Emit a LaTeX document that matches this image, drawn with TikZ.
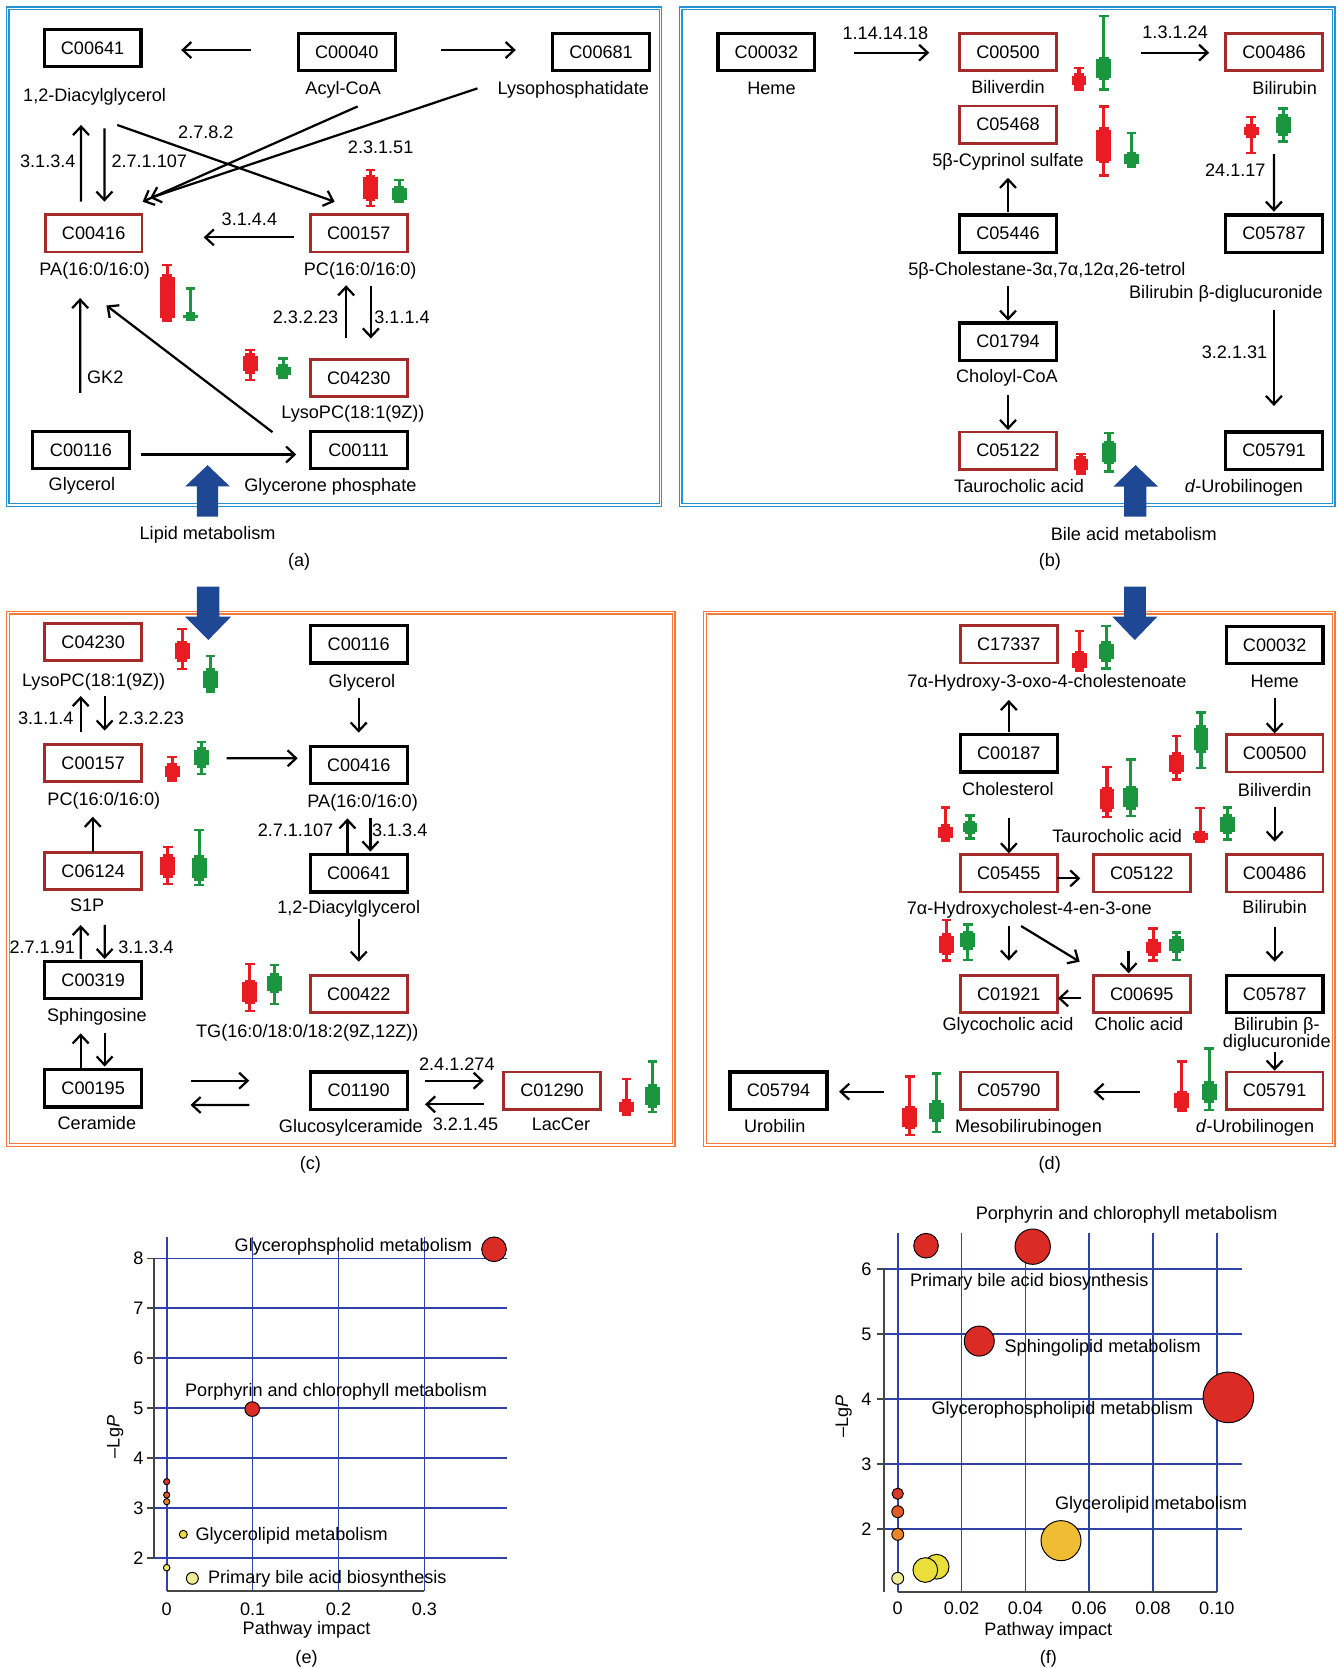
\documentclass[tikz,border=0pt]{standalone}
\usepackage{fontspec}
\setmainfont{Liberation Sans}
\usetikzlibrary{arrows.meta,calc}
\definecolor{boxred}{RGB}{165,42,42}
\definecolor{bpred}{RGB}{233,28,36}
\definecolor{bpgreen}{RGB}{28,150,62}
\definecolor{frblue}{RGB}{38,145,215}
\definecolor{frorange}{RGB}{245,122,58}
\definecolor{bigblue}{RGB}{31,72,148}
\definecolor{gridblue}{RGB}{48,66,168}
\definecolor{axgray}{RGB}{70,70,70}
\definecolor{bred}{RGB}{218,43,37}
\definecolor{bredtwo}{RGB}{216,56,38}
\definecolor{borangeone}{RGB}{226,90,40}
\definecolor{borangetwo}{RGB}{234,134,42}
\definecolor{bgold}{RGB}{240,188,52}
\definecolor{byellow}{RGB}{234,222,58}
\definecolor{bgyellow}{RGB}{236,232,110}
\definecolor{blyellow}{RGB}{240,236,150}
\newcommand\fs{\fontsize{17}{19}\selectfont}
\newcommand\bplot[6]{%
  \draw[#1, line width=3pt] (#2,#3) -- (#2,#6);
  \draw[#1, line width=2.2pt] (#2-4.5,#3) -- (#2+4.5,#3) (#2-4.5,#6) -- (#2+4.5,#6);
  \fill[#1] (#2-4.5,#4-2.5) rectangle (#2+4.5,#5+2.5);
  \fill[#1] (#2-7,#4) rectangle (#2+7,#5);}
\tikzset{
  kbox/.style={draw=black, line width=3pt, minimum width=91pt, minimum height=35pt, inner sep=0pt, font=\fs},
  rbox/.style={draw=boxred, line width=2.6pt, minimum width=91pt, minimum height=35pt, inner sep=0pt, font=\fs},
  lab/.style={font=\fs, inner sep=0pt, text height=12.5pt, text depth=3.5pt},
  arr/.style={line width=2.1pt, -{Straight Barb[length=8pt,width=15pt,line width=2.1pt]}},
  bframe/.style={draw=frblue, line width=1.2pt, double=white, double distance=1.2pt},
  oframe/.style={draw=frorange, line width=1.2pt, double=white, double distance=1.2pt},
  gridl/.style={draw=gridblue, line width=1.6pt},
  axisl/.style={draw=axgray, line width=1.6pt},
  ticklab/.style={font=\fs, inner sep=0pt},
  bub/.style={draw=black, line width=0.9pt},
}
\begin{document}
\begin{tikzpicture}[x=1pt,y=-1pt]
\useasboundingbox (0,0) rectangle (1257,1568);
\fill[white] (0,0) rectangle (1257,1568);

% ---------------- frames
\draw[bframe] (7.2,7.8) rectangle (620.5,474.4);
\draw[bframe] (639.5,7.8) rectangle (1253,474.4);
\draw[oframe] (7.4,575.6) rectangle (633,1075.7);
\draw[oframe] (662.2,575.6) rectangle (1253,1075.7);

% ---------------- panel (a)
\node[kbox] (a641) at (87,45) {C00641};
\node[kbox] (a040) at (325.8,49) {C00040};
\node[kbox] (a681) at (564.7,49) {C00681};
\node[rbox] (a416) at (88,219.2) {C00416};
\node[rbox] (a157) at (337,219.2) {C00157};
\node[rbox] (a230) at (337,355) {C04230};
\node[kbox] (a116) at (76.1,423) {C00116};
\node[kbox] (a111) at (337,423) {C00111};
\node[lab] (la641) at (88.9,90.8) {1,2-Diacylglycerol};
\node[lab] (la040) at (322.4,83.9) {Acyl-CoA};
\node[lab] (la681) at (538.6,83.9) {Lysophosphatidate};
\node[lab] (la416) at (88.9,254.3) {PA(16:0/16:0)};
\node[lab] (la157) at (338.4,254.3) {PC(16:0/16:0)};
\node[lab] (la230) at (331.6,388.3) {LysoPC(18:1(9Z))};
\node[lab] (la116) at (76.9,456.3) {Glycerol};
\node[lab] (la111) at (310.4,457.2) {Glycerone phosphate};
\node[lab] (ea1) at (193.4,125.3) {2.7.8.2};
\node[lab] (ea2) at (357.6,139.4) {2.3.1.51};
\node[lab] (ea3) at (44.9,152.5) {3.1.3.4};
\node[lab] (ea4) at (140.2,152.5) {2.7.1.107};
\node[lab] (ea5) at (234.3,207.6) {3.1.4.4};
\node[lab] (ea6) at (287.1,299.7) {2.3.2.23};
\node[lab] (ea7) at (377.7,299.7) {3.1.1.4};
\node[lab] (ea8) at (98.9,355.4) {GK2};
\draw[arr] ($(a040)+(-90.3,-2)$) -- ($(a641)+(83.2,2)$);
\draw[arr] ($(a040)+(88.7,-2)$) -- ($(a681)+(-80.1,-2)$);
\draw[arr] ($(a416)+(-11.9,-29.7)$) -- ($(la641)+(-12.8,26.6)$);
\draw[arr] ($(la641)+(9.2,29.8)$) -- ($(a416)+(10.1,-29.7)$);
\draw[arr] ($(la641)+(21.2,26.6)$) -- ($(a157)+(-22.6,-29.7)$);
\draw[arr] ($(la040)+(13.6,16.1)$) -- ($(a416)+(46,-29.7)$);
\draw[arr] ($(la681)+(-90,-0.9)$) -- ($(a416)+(53,-33.2)$);
\draw[arr] ($(a157)+(-60.7,3.8)$) -- ($(a416)+(103.4,3.8)$);
\draw[arr] ($(a230)+(-11.8,-37)$) -- ($(la157)+(-13.2,13.7)$);
\draw[arr] ($(la157)+(10,14.7)$) -- ($(a230)+(11.4,-37)$);
\draw[arr] ($(a116)+(-0.8,-54)$) -- ($(la416)+(-13.6,25.7)$);
\draw[arr] ($(a111)+(-81,-17)$) -- ($(la416)+(11.1,32.7)$);
\draw[arr] ($(a116)+(55.9,4)$) -- ($(a111)+(-58.7,4)$);
\bplot{bpred}{348}{160}{166.5}{186.5}{193.7}
\bplot{bpgreen}{375}{169}{177}{188}{190}
\bplot{bpred}{157}{249}{260}{299}{301}
\bplot{bpgreen}{179}{271}{296}{299}{300}
\bplot{bpred}{235}{329}{334.5}{349}{357}
\bplot{bpgreen}{266}{336.7}{344.5}{352}{355}
\fill[bigblue] (185,485.4) -- (185,457) -- (174,457) -- (195,437) -- (216,457) -- (205,457) -- (205,485.4) -- cycle;
\node[lab] (lipid) at (195,502.6) {Lipid metabolism};
\node[lab] (capa) at (281,527.7) {(a)};

% ---------------- panel (b)
\node[kbox] (b032) at (720,49) {C00032};
\node[rbox] (b500) at (947,49) {C00500};
\node[rbox] (b486) at (1197,49) {C00486};
\node[rbox] (b468) at (947,117) {C05468};
\node[kbox] (b446) at (947,219.5) {C05446};
\node[kbox] (b787) at (1197,219.5) {C05787};
\node[kbox] (b794) at (947,321) {C01794};
\node[rbox] (b122) at (947,423.4) {C05122};
\node[kbox] (b791) at (1197,423.4) {C05791};
\node[lab] (lb032) at (724.8,84) {Heme};
\node[lab] (lb500) at (947,83) {Biliverdin};
\node[lab] (lb486) at (1206.9,84) {Bilirubin};
\node[lab] (lb468) at (947,152) {5β-Cyprinol sulfate};
\node[lab] (lb446) at (983.5,254.3) {5β-Cholestane-3α,7α,12α,26-tetrol};
\node[lab] (lb787) at (1151.7,276.2) {Bilirubin β-diglucuronide};
\node[lab] (lb794) at (946,354.8) {Choloyl-CoA};
\node[lab] (lb122) at (957.4,457.8) {Taurocholic acid};
\node[lab] (lb791) at (1168.6,457.8) {\textit{d}-Urobilinogen};
\node[lab] (eb1) at (831.8,32.3) {1.14.14.18};
\node[lab] (eb2) at (1104,31.3) {1.3.1.24};
\node[lab] (eb3) at (1160.6,161.3) {24.1.17};
\node[lab] (eb4) at (1159.8,332.6) {3.2.1.31};
\draw[arr] ($(b032)+(82,0.5)$) -- ($(b500)+(-74,0.5)$);
\draw[arr] ($(b500)+(125,0.5)$) -- ($(b486)+(-61,0.5)$);
\draw[arr] ($(b446)+(0,-20.5)$) -- ($(lb468)+(0,15)$);
\draw[arr] ($(lb486)+(-10.1,60.7)$) -- ($(b787)+(-0.2,-20.6)$);
\draw[arr] ($(lb446)+(-36.5,14.4)$) -- ($(b794)+(0,-19.7)$);
\draw[arr] ($(lb794)+(1,16.2)$) -- ($(b122)+(0,-19.4)$);
\draw[arr] ($(lb787)+(45.1,14.8)$) -- ($(b791)+(-0.2,-42)$);
\bplot{bpred}{1013.7}{63.6}{71.4}{79.9}{84}
\bplot{bpgreen}{1037}{15}{55.7}{73}{84}
\bplot{bpred}{1037}{100}{122}{151}{165}
\bplot{bpgreen}{1063}{125}{145}{154}{156.6}
\bplot{bpred}{1175.4}{110}{119}{126.8}{144}
\bplot{bpgreen}{1205.6}{101.8}{109.6}{125}{133}
\bplot{bpred}{1015.6}{426.5}{431.2}{441.6}{445.3}
\bplot{bpgreen}{1041.9}{406.5}{416.5}{433.7}{443}
\fill[bigblue] (1056,485.4) -- (1056,457.2) -- (1046,457.2) -- (1066.8,436.9) -- (1088,457.2) -- (1077,457.2) -- (1077,485.4) -- cycle;
\node[lab] (bile) at (1065.2,503.3) {Bile acid metabolism};
\node[lab] (capb) at (986.4,527.7) {(b)};

% ---------------- panel (c)
\fill[bigblue] (185,551.2) -- (185,579.4) -- (174,579.4) -- (195.7,601.3) -- (217,579.4) -- (206,579.4) -- (206,551.2) -- cycle;
\node[rbox] (c230) at (87.5,603) {C04230};
\node[kbox] (c116) at (337,605.4) {C00116};
\node[rbox] (c157) at (87.5,716.7) {C00157};
\node[kbox] (c416) at (337,718.8) {C00416};
\node[rbox] (c124) at (87.5,818.5) {C06124};
\node[kbox] (c641) at (337,820.6) {C00641};
\node[kbox] (c319) at (87.5,920.5) {C00319};
\node[rbox] (c422) at (337,934) {C00422};
\node[kbox] (c195) at (87.5,1022.5) {C00195};
\node[kbox] (c190) at (337,1024.7) {C01190};
\node[rbox] (c290) at (518.6,1024.7) {C01290};
\node[lab] (lc230) at (88,640.4) {LysoPC(18:1(9Z))};
\node[lab] (lc116) at (340,641) {Glycerol};
\node[lab] (lc157) at (97.5,752.5) {PC(16:0/16:0)};
\node[lab] (lc416) at (340.7,753.8) {PA(16:0/16:0)};
\node[lab] (lc124) at (81.9,851.8) {S1P};
\node[lab] (lc641) at (327.6,854) {1,2-Diacylglycerol};
\node[lab] (lc319) at (91,955.2) {Sphingosine};
\node[lab] (lc422) at (288.7,969.8) {TG(16:0/18:0/18:2(9Z,12Z))};
\node[lab] (lc195) at (91,1057) {Ceramide};
\node[lab] (lc190) at (329.6,1059.4) {Glucosylceramide};
\node[lab] (lc290) at (527,1057.6) {LacCer};
\node[lab] (ec1) at (43,676.4) {3.1.1.4};
\node[lab] (ec2) at (142,676.4) {2.3.2.23};
\node[lab] (ec3) at (277.6,781.3) {2.7.1.107};
\node[lab] (ec4) at (375.5,781.3) {3.1.3.4};
\node[lab] (ec5) at (39.7,891) {2.7.1.91};
\node[lab] (ec6) at (137.2,891) {3.1.3.4};
\node[lab] (ec7) at (429.2,1001.2) {2.4.1.274};
\node[lab] (ec8) at (437.3,1057.6) {3.2.1.45};
\draw[arr] ($(c157)+(-11.7,-29.3)$) -- ($(lc230)+(-12.2,13.5)$);
\draw[arr] ($(lc230)+(10.3,13.5)$) -- ($(c157)+(10.8,-30.3)$);
\draw[arr] ($(lc116)+(-3,14.5)$) -- ($(c416)+(0,-30.5)$);
\draw[arr] ($(c157)+(125.5,-4.3)$) -- ($(c416)+(-57.3,-6.4)$);
\draw[arr] ($(c124)+(-0.3,-18.5)$) -- ($(lc157)+(-10.3,14.8)$);
\draw[arr] ($(c641)+(-10.6,-18.9)$) -- ($(lc416)+(-14.3,15)$);
\draw[arr] ($(lc416)+(7.3,15)$) -- ($(c641)+(11,-20.6)$);
\draw[arr] ($(c319)+(-11.7,-19.5)$) -- ($(lc124)+(-6.1,17.2)$);
\draw[arr] ($(lc124)+(16.4,17.2)$) -- ($(c319)+(10.8,-19.5)$);
\draw[arr] ($(lc641)+(9.4,9.7)$) -- ($(c422)+(0,-30.5)$);
\draw[arr] ($(c195)+(-11.7,-18.8)$) -- ($(lc319)+(-15.2,15.6)$);
\draw[arr] ($(lc319)+(7.3,15.6)$) -- ($(c195)+(10.8,-20.5)$);
\draw[arr] ($(c195)+(91.5,-7.2)$) -- ($(c190)+(-102.8,-9.4)$);
\draw[arr] ($(c190)+(-102.8,13.4)$) -- ($(c195)+(91.5,15.6)$);
\draw[arr] ($(c190)+(62.3,-9.4)$) -- ($(c290)+(-64.1,-9.4)$);
\draw[arr] ($(c290)+(-64.1,12.8)$) -- ($(c190)+(62.3,12.8)$);
\bplot{bpred}{171.2}{591.2}{604.4}{619.4}{628.8}
\bplot{bpgreen}{197.8}{616.3}{630}{646.7}{650.4}
\bplot{bpred}{161.8}{710.9}{719.3}{729.7}{733.4}
\bplot{bpgreen}{189.2}{696.8}{704.6}{718.7}{727.2}
\bplot{bpred}{157.7}{796}{804.8}{822}{830.5}
\bplot{bpgreen}{187.1}{779.8}{806}{825}{831.5}
\bplot{bpred}{234.6}{905.7}{922.9}{941}{949.5}
\bplot{bpgreen}{258}{906.6}{916.6}{930.7}{943.3}
\bplot{bpred}{588.5}{1013.7}{1035}{1044.4}{1047.5}
\bplot{bpgreen}{613}{997.4}{1021}{1038}{1044.4}
\node[lab] (capc) at (291.6,1094.5) {(c)};

% ---------------- panel (d)
\fill[bigblue] (1056,551.2) -- (1056,579.4) -- (1045,579.4) -- (1066.1,601.3) -- (1087.3,579.4) -- (1076.5,579.4) -- (1076.5,551.2) -- cycle;
\node[rbox] (d337) at (947.8,605.4) {C17337};
\node[kbox] (d032) at (1197.5,606) {C00032};
\node[kbox] (d187) at (947.8,707.8) {C00187};
\node[rbox] (d500) at (1197.5,707.8) {C00500};
\node[rbox] (d455) at (947.8,820.5) {C05455};
\node[rbox] (d122) at (1072.6,820.5) {C05122};
\node[rbox] (d486) at (1197.5,820.5) {C00486};
\node[rbox] (d921) at (947.8,934) {C01921};
\node[rbox] (d695) at (1072.6,934) {C00695};
\node[kbox] (d787) at (1197.5,934) {C05787};
\node[kbox] (d794) at (731.4,1024.7) {C05794};
\node[rbox] (d790) at (947.8,1024.7) {C05790};
\node[rbox] (d791) at (1197.5,1024.7) {C05791};
\node[lab] (ld337) at (983.5,641.4) {7α-Hydroxy-3-oxo-4-cholestenoate};
\node[lab] (ld032) at (1197.5,641.4) {Heme};
\node[lab] (ld187) at (947,742.8) {Cholesterol};
\node[lab] (ld500) at (1197.5,743.8) {Biliverdin};
\node[lab] (ld122) at (1049.6,787) {Taurocholic acid};
\node[lab] (ld455) at (967,855) {7α-Hydroxycholest-4-en-3-one};
\node[lab] (ld486) at (1197.5,853.4) {Bilirubin};
\node[lab] (ld921) at (947,963.6) {Glycocholic acid};
\node[lab] (ld695) at (1070,963.6) {Cholic acid};
\node[font=\fontsize{17}{16}\selectfont, inner sep=0pt, align=center] (ld787) at (1199.5,971.6) {Bilirubin β-\\diglucuronide};
\node[lab] (ld794) at (727.9,1059.1) {Urobilin};
\node[lab] (ld790) at (966.2,1059.1) {Mesobilirubinogen};
\node[lab] (ld791) at (1179.1,1059.1) {\textit{d}-Urobilinogen};
\draw[arr] ($(d187)+(0,-19.8)$) -- ($(ld337)+(-35.7,16.2)$);
\draw[arr] ($(ld032)+(0,14.6)$) -- ($(d500)+(0,-18.8)$);
\draw[arr] ($(ld187)+(0.8,26)$) -- ($(d455)+(0,-18.8)$);
\draw[arr] ($(ld500)+(0,14.1)$) -- ($(d486)+(0,-29.8)$);
\draw[arr] ($(d455)+(44.9,4.7)$) -- ($(d122)+(-57.6,4.7)$);
\draw[arr] ($(ld486)+(0,17.2)$) -- ($(d787)+(0,-30.5)$);
\draw[arr] ($(ld455)+(-19.2,15)$) -- ($(d921)+(0,-31.5)$);
\draw[arr] ($(ld455)+(-7.7,15)$) -- ($(d695)+(-58.3,-30.5)$);
\draw[arr] ($(d122)+(-12.3,72.7)$) -- ($(d695)+(-12.3,-19.6)$);
\draw[arr] ($(d695)+(-56.8,3.9)$) -- ($(d921)+(46.1,3.9)$);
\draw[arr] ($(ld787)+(-2,16.4)$) -- ($(d791)+(0,-18.8)$);
\draw[arr] ($(d791)+(-126.8,0.9)$) -- ($(d790)+(79.5,0.9)$);
\draw[arr] ($(d790)+(-117.3,0.9)$) -- ($(d794)+(56.9,0.9)$);
\bplot{bpred}{1014.3}{592.8}{613.8}{627.9}{630.4}
\bplot{bpgreen}{1039.2}{588.1}{605}{619.4}{627.9}
\bplot{bpred}{1105.3}{691.5}{709.3}{725}{732.2}
\bplot{bpgreen}{1128.3}{669.5}{683.6}{704.6}{721.8}
\bplot{bpred}{1040}{720.3}{741.6}{760.3}{767.3}
\bplot{bpgreen}{1062.3}{713.4}{740.6}{758.5}{766.6}
\bplot{bpred}{888.2}{758.5}{776.7}{787.6}{789.8}
\bplot{bpgreen}{911.3}{766.3}{773.5}{781.4}{787.6}
\bplot{bpred}{1127.6}{759.4}{782.9}{789.2}{790.8}
\bplot{bpgreen}{1153.3}{758.5}{767.3}{781.4}{788.6}
\bplot{bpred}{889.3}{864.3}{879.4}{895}{902.5}
\bplot{bpgreen}{909.3}{868.4}{876.9}{890}{901.9}
\bplot{bpred}{1083.4}{872.2}{884.7}{895.6}{902.5}
\bplot{bpgreen}{1105.3}{875.9}{882.2}{893.2}{901.9}
\bplot{bpred}{1110.3}{997.4}{1027.2}{1041.3}{1043.5}
\bplot{bpgreen}{1136}{984.9}{1018.4}{1033.5}{1042.9}
\bplot{bpred}{854.8}{1011.5}{1041.3}{1058.5}{1066.3}
\bplot{bpgreen}{879.7}{1008.4}{1036}{1051.6}{1063.2}
\node[lab] (capd) at (986.2,1094.5) {(d)};

% ---------------- chart (e)
\foreach \vv in {2,...,8} {
  \draw[gridl] (144.5,{1182.2+(8-\vv)*46.9}) -- (476.2,{1182.2+(8-\vv)*46.9});
  \draw[axisl] (138.5,{1182.2+(8-\vv)*46.9}) -- (144.5,{1182.2+(8-\vv)*46.9});
  \node[ticklab] (ey\vv) at (130,{1182.2+(8-\vv)*46.9}) {\vv};
}
\foreach \ii/\tt in {0/0,1/0.1,2/0.2,3/0.3} {
  \draw[gridl] ({156.6+80.7*\ii},1162) -- ({156.6+80.7*\ii},1495);
  \node[ticklab] (ex\ii) at ({156.6+80.7*\ii},1512) {\tt};
}
\draw[axisl] (144.5,1182.2) -- (144.5,1463.6);
\draw[axisl] (156.6,1495) -- (398.7,1495);
\draw[bub, fill=bred] (464.1,1173.7) circle (11.6pt);
\draw[bub, fill=bred] (237,1323.8) circle (6.9pt);
\draw[bub, fill=bredtwo] (156.6,1392) circle (2.9pt);
\draw[bub, fill=borangeone] (156.6,1404.5) circle (2.9pt);
\draw[bub, fill=borangetwo] (156.6,1410.8) circle (2.9pt);
\draw[bub, fill=byellow] (172.2,1441.5) circle (3.8pt);
\draw[bub, fill=bgyellow] (156.6,1472.8) circle (3.1pt);
\draw[bub, fill=blyellow] (180.7,1482.8) circle (5.6pt);
\node[lab] (e1) at (332,1171) {Glycerophspholid metabolism};
\node[lab] (e2) at (315.7,1307.5) {Porphyrin and chlorophyll metabolism};
\node[lab] (e3) at (274,1442.7) {Glycerolipid metabolism};
\node[lab] (e4) at (307.5,1482.8) {Primary bile acid biosynthesis};
\node[lab] (exl) at (288,1531) {Pathway impact};
\node[lab, rotate=90] (eyl) at (108,1350) {–Lg\textit{P}};
\node[lab] (cape) at (288,1558) {(e)};

% ---------------- chart (f)
\foreach \vv in {2,...,6} {
  \draw[gridl] (830.8,{1192.5+(6-\vv)*61.07}) -- (1166.5,{1192.5+(6-\vv)*61.07});
  \draw[axisl] (824.2,{1192.5+(6-\vv)*61.07}) -- (830.8,{1192.5+(6-\vv)*61.07});
  \node[ticklab] (fy\vv) at (814,{1192.5+(6-\vv)*61.07}) {\vv};
}
\foreach \ii/\tt in {0/0,1/0.02,2/0.04,3/0.06,4/0.08,5/0.10} {
  \draw[gridl] ({843.4+59.95*\ii},1158.7) -- ({843.4+59.95*\ii},1495.4);
  \node[ticklab] (fx\ii) at ({843.4+59.95*\ii},1511) {\tt};
}
\draw[axisl] (830.8,1192.5) -- (830.8,1495.4);
\draw[axisl] (843.4,1495.4) -- (1143.2,1495.4);
\draw[bub, fill=bred] (870,1170.3) circle (11.6pt);
\draw[bub, fill=bred] (970.2,1171.2) circle (16.6pt);
\draw[bub, fill=bred] (920,1259.9) circle (14.1pt);
\draw[bub, fill=bred] (1154,1312.8) circle (23.8pt);
\draw[bub, fill=bredtwo] (843.4,1403.3) circle (5.3pt);
\draw[bub, fill=borangeone] (843.4,1420.2) circle (5.6pt);
\draw[bub, fill=borangetwo] (843.4,1441.5) circle (5.6pt);
\draw[bub, fill=blyellow] (843.4,1482.8) circle (5.6pt);
\draw[bub, fill=byellow] (880,1471.9) circle (11.6pt);
\draw[bub, fill=byellow] (869.3,1475) circle (11.6pt);
\draw[bub, fill=bgold] (996.8,1447.4) circle (18.8pt);
\node[lab] (f1) at (1058.5,1141.5) {Porphyrin and chlorophyll metabolism};
\node[lab] (f2) at (967,1204.1) {Primary bile acid biosynthesis};
\node[lab] (f3) at (1036,1266.1) {Sphingolipid metabolism};
\node[lab] (f4) at (998,1324.7) {Glycerophospholipid metabolism};
\node[lab] (f5) at (1081.4,1413.9) {Glycerolipid metabolism};
\node[lab] (fxl) at (984.9,1532) {Pathway impact};
\node[lab, rotate=90] (fyl) at (792.3,1331) {–Lg\textit{P}};
\node[lab] (capf) at (984.9,1558) {(f)};
\end{tikzpicture}
\end{document}
